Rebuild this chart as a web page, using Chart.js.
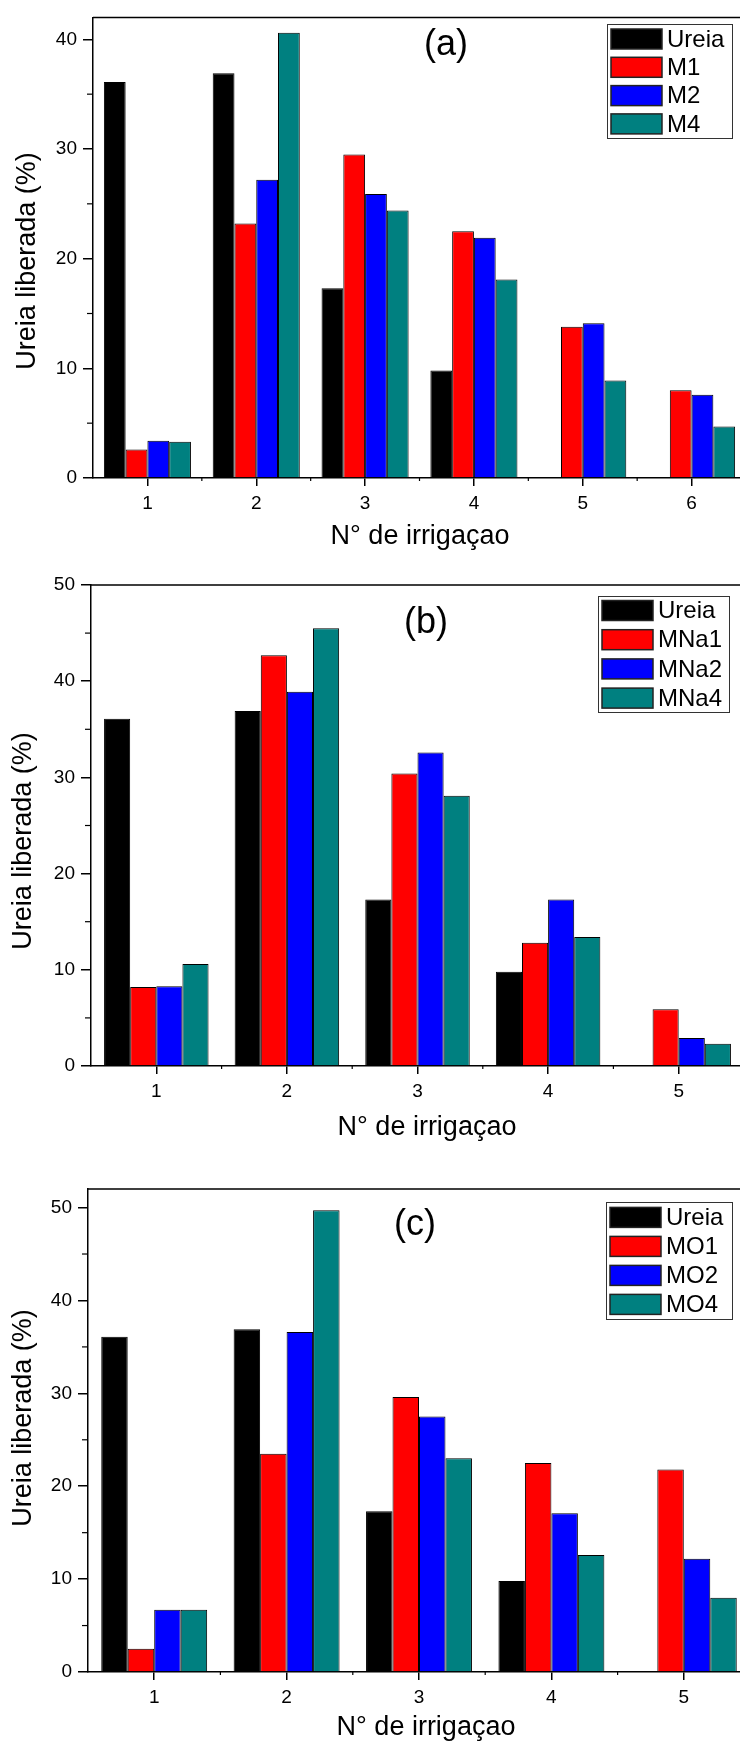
<!DOCTYPE html>
<html>
<head>
<meta charset="utf-8">
<script src="https://cdn.jsdelivr.net/npm/chart.js@4.4.1/dist/chart.umd.min.js"></script>
<style>
html, body { margin: 0; padding: 0; background: #fff; overflow: hidden; width: 740px; height: 1744px; }
canvas { position: absolute; left: 0; }
</style>
</head>
<body>
<canvas id="chartA" width="760" height="560" style="top:0px"></canvas>
<canvas id="chartB" width="760" height="590" style="top:560px"></canvas>
<canvas id="chartC" width="760" height="594" style="top:1150px"></canvas>
<script>
// irrigation number (x axis)
const irrigA = ["1", "2", "3", "4", "5", "6"];
const irrigBC = ["1", "2", "3", "4", "5"];

// urea released (%), pure urea is the same in every panel
const ureia = [36.1, 36.9, 17.3, 9.8, 0, 0];

// panel (a)
const m1 = [2.6, 23.2, 29.5, 22.5, 13.8, 8.0];
const m2 = [3.4, 27.2, 25.9, 21.9, 14.1, 7.6];
const m4 = [3.3, 40.6, 24.4, 18.1, 8.9, 4.7];
// panel (b)
const mna1 = [8.2, 42.7, 30.4, 12.8, 5.9];
const mna2 = [8.3, 38.9, 32.6, 17.3, 2.9];
const mna4 = [10.6, 45.5, 28.1, 13.4, 2.3];
// panel (c)
const mo1 = [2.5, 23.5, 29.6, 22.5, 21.8];
const mo2 = [6.7, 36.6, 27.5, 17.1, 12.2];
const mo4 = [6.7, 49.7, 23.0, 12.6, 8.0];

const barColors = ["#000000", "#ff0000", "#0000ff", "#008080"];
const FONT = "'Liberation Sans', Arial, Helvetica, sans-serif";

Chart.defaults.color = "#000";
Chart.defaults.font.family = FONT;

// frame, minor ticks, legend box, panel letter and axis titles
function extrasPlugin(p) {
  return {
    id: "extras",
    afterDraw(chart) {
      const ctx = chart.ctx;
      const area = chart.chartArea;
      const ys = chart.scales.y;
      const xs = chart.scales.x;
      ctx.save();
      ctx.strokeStyle = "#000";
      ctx.lineWidth = 1.5;
      ctx.beginPath();
      ctx.moveTo(area.left, area.top);
      ctx.lineTo(area.right, area.top);
      ctx.lineTo(area.right, area.bottom);
      ctx.stroke();

      // minor y ticks
      ctx.lineWidth = 1.2;
      for (let v = 5; v < ys.max; v += 10) {
        const y = ys.getPixelForValue(v);
        ctx.beginPath();
        ctx.moveTo(area.left - 6, y);
        ctx.lineTo(area.left, y);
        ctx.stroke();
      }
      // small x ticks between groups
      const n = chart.data.labels.length;
      for (let i = 0; i < n - 1; i++) {
        const x = (xs.getPixelForValue(i) + xs.getPixelForValue(i + 1)) / 2;
        ctx.beginPath();
        ctx.moveTo(x, area.bottom);
        ctx.lineTo(x, area.bottom + 3);
        ctx.stroke();
      }

      // legend
      const lg = p.legend;
      ctx.lineWidth = 1;
      ctx.strokeStyle = "#333";
      ctx.strokeRect(lg.x + 0.5, lg.y + 0.5, lg.w, lg.h);
      ctx.font = "24px " + FONT;
      ctx.textAlign = "left";
      ctx.textBaseline = "middle";
      chart.data.datasets.forEach(function (ds, i) {
        const top = lg.rowTop + i * lg.pitch;
        ctx.fillStyle = ds.backgroundColor;
        ctx.fillRect(lg.swX, top, 51, 20);
        ctx.strokeStyle = "#222";
        ctx.lineWidth = 1.5;
        ctx.strokeRect(lg.swX, top, 51, 20);
        ctx.fillStyle = "#000";
        ctx.fillText(ds.label, lg.swX + 56, top + 11);
      });

      // panel letter
      ctx.font = "36px " + FONT;
      ctx.textAlign = "center";
      ctx.textBaseline = "middle";
      ctx.fillText(p.letter, p.letterX, p.letterY);

      // axis titles
      ctx.font = "27px " + FONT;
      ctx.textBaseline = "alphabetic";
      ctx.fillText("N° de irrigaçao", p.xTitleX, p.xTitleY);
      ctx.save();
      ctx.translate(p.yTitleX, p.yTitleY);
      ctx.rotate(-Math.PI / 2);
      ctx.textBaseline = "middle";
      ctx.fillText("Ureia liberada (%)", 0, 0);
      ctx.restore();
      ctx.restore();
    }
  };
}

function makeChart(id, labels, series, names, p) {
  const datasets = series.map(function (s, i) {
    return {
      label: names[i],
      data: s,
      backgroundColor: barColors[i],
      borderColor: "#000",
      borderWidth: 1,
      categoryPercentage: 0.8,
      barPercentage: 1.0
    };
  });
  return new Chart(document.getElementById(id), {
    type: "bar",
    data: { labels: labels, datasets: datasets },
    options: {
      responsive: false,
      animation: false,
      devicePixelRatio: 1,
      layout: { padding: { top: p.padTop, right: p.padRight, left: 0, bottom: 0 } },
      plugins: { legend: { display: false }, tooltip: { enabled: false } },
      scales: {
        x: {
          offset: true,
          grid: { display: true, offset: false, drawOnChartArea: false, tickLength: 8, color: "#000", lineWidth: 1.5 },
          border: { display: true, color: "#000", width: 1.5 },
          ticks: { font: { size: 19 }, padding: 6, color: "#000" },
          afterFit: function (scale) { scale.height = p.xHeight; }
        },
        y: {
          min: 0,
          max: p.yMax,
          grid: { display: true, drawOnChartArea: false, tickLength: 10, color: "#000", lineWidth: 1.5 },
          border: { display: true, color: "#000", width: 1.5 },
          ticks: { stepSize: 10, includeBounds: false, font: { size: 19 }, padding: 6, color: "#000" },
          afterFit: function (scale) { scale.width = p.yWidth; }
        }
      }
    },
    plugins: [extrasPlugin(p)]
  });
}

makeChart("chartA", irrigA.slice(), [ureia, m1, m2, m4], ["Ureia", "M1", "M2", "M4"], {
  padTop: 9, padRight: 14, yWidth: 93, xHeight: 82, yMax: 42,
  letter: "(a)", letterX: 446, letterY: 45,
  legend: { x: 607, y: 24, w: 125, h: 114, swX: 611, rowTop: 29, pitch: 28.3 },
  xTitleX: 420, xTitleY: 544, yTitleX: 28, yTitleY: 261
});

makeChart("chartB", irrigBC.slice(), [ureia.slice(0, 5), mna1, mna2, mna4], ["Ureia", "MNa1", "MNa2", "MNa4"], {
  padTop: 25, padRight: 16, yWidth: 91, xHeight: 84, yMax: 50,
  letter: "(b)", letterX: 426, letterY: 63,
  legend: { x: 598, y: 36, w: 131, h: 116, swX: 602, rowTop: 40.5, pitch: 29.2 },
  xTitleX: 427, xTitleY: 575, yTitleX: 24, yTitleY: 281
});

makeChart("chartC", irrigBC.slice(), [ureia.slice(0, 5), mo1, mo2, mo4], ["Ureia", "MO1", "MO2", "MO4"], {
  padTop: 39, padRight: 10, yWidth: 88, xHeight: 72, yMax: 52,
  letter: "(c)", letterX: 415, letterY: 75,
  legend: { x: 606, y: 52, w: 126, h: 117, swX: 610, rowTop: 57.4, pitch: 29 },
  xTitleX: 426, xTitleY: 585, yTitleX: 24, yTitleY: 268
});
</script>
</body>
</html>
